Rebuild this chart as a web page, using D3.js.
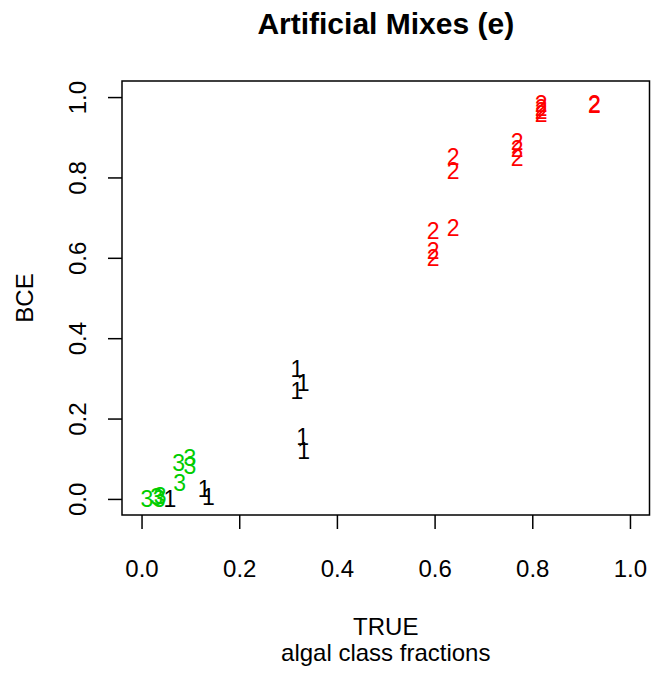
<!DOCTYPE html>
<html>
<head>
<meta charset="utf-8">
<script src="https://cdn.jsdelivr.net/npm/d3@7"></script>
<style>
  html, body { margin: 0; padding: 0; background: #fff; }
  svg { display: block; font-family: "Liberation Sans", Arial, Helvetica, sans-serif; }
</style>
</head>
<body>
<svg id="chart" width="652" height="677"></svg>
<script>
// Class 1 estimates (black)
const class1True = [0.318, 0.331, 0.318, 0.330, 0.332, 0.058, 0.128, 0.137];
const class1BCE  = [0.325, 0.290, 0.270, 0.156, 0.119, 0.000, 0.025, 0.005];

// Class 2 estimates (red)
const class2True = [0.927, 0.927, 0.818, 0.818, 0.818, 0.818, 0.769, 0.769, 0.769,
                    0.638, 0.638, 0.638, 0.597, 0.597, 0.597];
const class2BCE  = [0.983, 0.980, 0.983, 0.973, 0.965, 0.958, 0.888, 0.871, 0.849,
                    0.851, 0.816, 0.675, 0.668, 0.618, 0.600];

// Class 3 estimates (green)
const class3True = [0.011, 0.031, 0.038, 0.036, 0.076, 0.099, 0.099, 0.078];
const class3BCE  = [0.000, 0.005, 0.007, 0.000, 0.089, 0.102, 0.082, 0.040];

const classLabels = ["1", "2", "3"];
const classColors = ["#000000", "#ff0000", "#00cd00"];
const tickValues = [0, 0.2, 0.4, 0.6, 0.8, 1.0];

const titleText = "Artificial Mixes (e)";
const yTitle = "BCE";
const xTitle = ["TRUE", "algal class fractions"];

const svg = d3.select("#chart");
const box = { left: 122, right: 649.5, top: 81, bottom: 515 };

const x = d3.scaleLinear().domain([-0.04, 1.04]).range([box.left, box.right]);
const y = d3.scaleLinear().domain([-0.04, 1.04]).range([box.bottom, box.top]);

// Plot frame
svg.append("rect")
  .attr("x", box.left).attr("y", box.top)
  .attr("width", box.right - box.left).attr("height", box.bottom - box.top)
  .attr("fill", "none").attr("stroke", "#000").attr("stroke-width", 1.5);

const fmt = d3.format(".1f");

// Bottom axis
const gx = svg.append("g")
  .attr("transform", `translate(0,${box.bottom})`)
  .call(d3.axisBottom(x).tickValues(tickValues).tickFormat(fmt).tickSize(14).tickPadding(31));
gx.select(".domain").remove();
gx.selectAll(".tick line").attr("stroke", "#000").attr("stroke-width", 1.5);
gx.selectAll(".tick text").attr("font-size", 24).attr("fill", "#000")
  .attr("font-family", "Liberation Sans, Arial, sans-serif");

// Left axis with labels turned parallel to the axis
const gy = svg.append("g")
  .attr("transform", `translate(${box.left},0)`)
  .call(d3.axisLeft(y).tickValues(tickValues).tickFormat(fmt).tickSize(14));
gy.select(".domain").remove();
gy.selectAll(".tick line").attr("stroke", "#000").attr("stroke-width", 1.5);
gy.selectAll(".tick text")
  .attr("font-size", 24).attr("fill", "#000")
  .attr("font-family", "Liberation Sans, Arial, sans-serif")
  .attr("x", 0).attr("y", -36).attr("dy", 0)
  .attr("text-anchor", "middle")
  .attr("transform", "rotate(-90)");

// Titles
svg.append("text")
  .attr("x", (box.left + box.right) / 2).attr("y", 34)
  .attr("text-anchor", "middle").attr("font-size", 30).attr("font-weight", "bold")
  .text(titleText);

svg.append("text")
  .attr("transform", `translate(33,${(box.top + box.bottom) / 2}) rotate(-90)`)
  .attr("text-anchor", "middle").attr("font-size", 24)
  .text(yTitle);

svg.selectAll("text.xtitle")
  .data(xTitle)
  .join("text")
  .attr("class", "xtitle")
  .attr("x", (box.left + box.right) / 2)
  .attr("y", (d, i) => 635 + i * 26)
  .attr("text-anchor", "middle").attr("font-size", 24)
  .text(d => d);

// Points drawn as class-number characters
const series = [
  { xs: class1True, ys: class1BCE },
  { xs: class2True, ys: class2BCE },
  { xs: class3True, ys: class3BCE }
];

series.forEach((s, k) => {
  const pts = s.xs.map((v, i) => ({ t: v, b: s.ys[i] }));
  svg.append("g")
    .selectAll("text")
    .data(pts)
    .join("text")
    .attr("x", d => x(d.t))
    .attr("y", d => y(d.b))
    .attr("dy", "0.36em")
    .attr("text-anchor", "middle")
    .attr("font-size", 23)
    .attr("fill", classColors[k])
    .text(classLabels[k]);
});
</script>
</body>
</html>
